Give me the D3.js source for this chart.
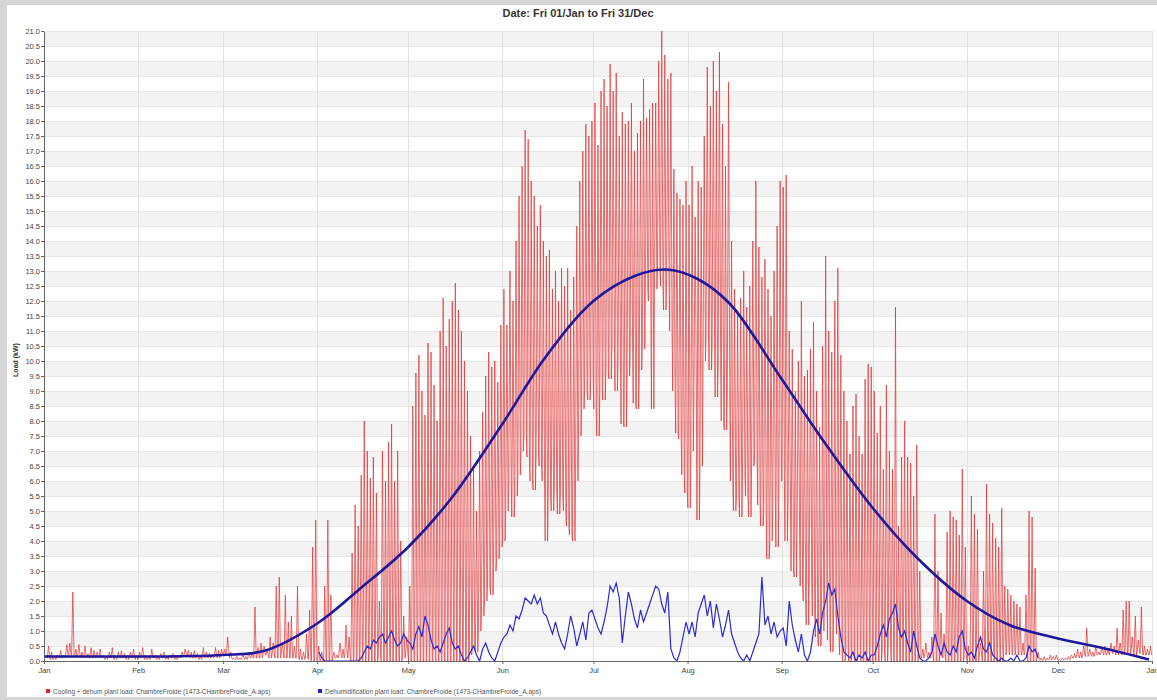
<!DOCTYPE html>
<html>
<head>
<meta charset="utf-8">
<script src="https://cdn.jsdelivr.net/npm/d3@7"></script>
<style>
  html, body { margin: 0; padding: 0; background: #d6d6d6; }
  svg { display: block; font-family: "Liberation Sans", Arial, sans-serif; }
</style>
</head>
<body>
<svg id="chart" width="1157" height="700"></svg>
<script>
// ---- data ----
var monthLabels = [ 'Jan', 'Feb', 'Mar', 'Apr', 'May', 'Jun', 'Jul', 'Aug', 'Sep', 'Oct', 'Nov', 'Dec', 'Jan' ];
var monthLengths = [ 31, 28, 31, 30, 31, 30, 31, 31, 30, 31, 30, 31 ];

// cooling + dehum plant load: daily peak (kW), per month
var coolPeak = [
  [0.2,0.5,0.3,0.15,0.2,0.35,0.2,0.55,0.6,2.3,0.4,0.55,0.3,0.5,0.25,0.45,0.35,0.3,0.4,0.2,0.15,0.3,0.45,0.2,0.3,0.35,0.25,0.2,0.3,0.4,0.2],
  [0.3,0.45,0.2,0.15,0.4,0.2,0.15,0.25,0.3,0.15,0.2,0.25,0.15,0.2,0.3,0.4,0.35,0.3,0.35,0.25,0.15,0.45,0.3,0.25,0.2,0.45,0.35,0.4],
  [0.4,0.8,0.3,0.1,0.15,0.1,0.2,0.15,0.3,0.25,1.8,0.45,0.6,0.5,0.35,0.8,0.6,2.5,2.8,0.6,2.2,1.3,1.5,0.5,2.5,0.4,0.3,0.9,1.7,3.8,4.7],
  [0.5,0.3,2.5,4.7,2.2,0.3,0.2,0.6,0.4,1.2,0.8,3.6,5.2,4.5,6.2,8.0,7.0,6.1,6.8,5.6,2.0,7.0,6.0,7.3,7.9,6.0,7.0,4.0,1.5,0.8],
  [2.5,8.5,9.6,10.2,9.0,8.2,10.6,10.3,9.2,8.0,11.0,12.1,10.5,11.4,12.0,12.6,11.7,11.0,10.0,9.0,7.5,6.5,5.0,7.0,8.3,9.5,10.3,9.8,10.0,9.3,11.2],
  [12.4,11.2,13.0,12.0,14.0,15.5,16.5,17.7,17.4,16.0,15.5,14.5,15.2,14.0,13.5,13.7,12.4,13.0,12.0,13.1,12.5,13.1,11.7,12.8,14.5,16.0,17.0,17.9,17.5,18.0],
  [18.6,17.2,19.0,19.4,18.5,19.9,19.0,19.6,17.5,18.3,17.9,18.0,18.6,17.0,17.6,18.0,19.4,18.1,18.4,18.6,18.6,20.0,21.0,20.2,19.4,19.6,16.4,15.6,15.4,15.2,16.0],
  [15.2,16.5,14.8,16.0,15.8,17.5,19.8,18.5,20.0,19.0,20.3,17.9,16.5,19.3,14.0,12.4,11.7,12.1,13.0,11.8,12.5,14.0,16.0,13.8,12.8,13.4,12.4,11.5,13.0,14.5,16.0],
  [15.8,16.2,11.0,10.4,9.0,10.0,12.0,9.5,9.7,10.4,11.3,9.0,7.8,10.5,13.5,11.0,10.3,12.0,13.1,10.2,9.0,8.0,6.9,8.5,8.9,7.5,6.9,9.4,9.9,9.8],
  [9.0,7.6,8.5,6.4,9.2,7.0,6.4,11.8,4.5,6.8,8.0,6.8,6.6,5.5,7.2,3.0,0.4,0.6,0.3,0.8,4.9,3.0,1.6,0.9,4.3,5.0,4.8,4.7,4.2,6.4,3.8],
  [0.5,5.5,4.9,4.4,0.6,3.0,5.9,4.9,4.6,4.1,3.8,5.1,2.5,2.4,2.2,2.0,1.9,1.8,0.6,2.2,5.0,4.8,3.1,0.3,0.1,0.15,0.1,0.2,0.15,0.2],
  [0.05,0.1,0.1,0.15,0.2,0.25,0.4,0.3,0.5,1.1,0.4,0.3,0.5,0.3,0.45,0.5,0.4,0.6,0.5,1.1,0.6,1.7,2.0,2.0,0.8,1.5,0.7,1.8,0.5,0.4,0.5]
];

// cooling + dehum plant load: daily minimum (kW), per month
var coolLow = [
  [0.1,0.1,0.05,0.05,0.1,0.1,0.1,0.2,0.2,0.2,0.15,0.2,0.1,0.15,0.1,0.1,0.1,0.15,0.1,0.1,0.05,0.1,0.1,0.05,0.1,0.1,0.1,0.05,0.1,0.1,0.05],
  [0.1,0.15,0.05,0.05,0.1,0.1,0.05,0.1,0.1,0.05,0.1,0.1,0.05,0.1,0.15,0.2,0.15,0.1,0.1,0.1,0.05,0.15,0.1,0.1,0.1,0.15,0.1,0.2],
  [0.2,0.3,0.1,0.05,0.05,0.05,0.1,0.05,0.1,0.1,0.1,0.1,0.1,0.2,0.2,0.1,0.2,0.1,0.1,0.2,0.1,0.1,0.1,0.1,0.1,0.05,0.05,0.1,0.05,0,0],
  [0,0,0,0,0,0.1,0.1,0.2,0.1,0.2,0.1,0,0,0,0,0,0,0,0,0,0.1,0,0,0,0,0,0,0,0.1,0.2],
  [0,0,0,0,0,0,0,0,0,0,0,0,0,0,0,0,0,0,0,0,0.2,0.5,0.3,1.0,1.5,2.0,2.5,2.2,3.0,3.4,3.8],
  [4.0,5.0,6.0,4.8,5.5,6.2,7.0,7.5,6.8,6.0,5.7,6.9,6.5,6.0,4.0,5.5,5.0,5.8,4.9,5.5,5.0,4.5,4.2,4.0,6.0,7.5,8.4,9.0,8.7,9.4],
  [8.4,7.5,9.0,8.7,9.7,9.4,10.5,9.0,10.0,7.9,7.8,9.5,10.4,8.6,8.4,9.7,10.4,12.4,12.0,8.4,12.4,13.1,12.5,11.7,12.8,11.0,9.0,7.6,7.4,6.2,5.6],
  [5.1,7.0,9.0,4.7,6.5,10.0,11.0,9.7,10.5,8.8,10.0,8.0,7.7,9.0,6.0,5.0,5.4,4.8,6.2,5.5,4.8,6.5,7.0,5.2,4.5,5.0,3.4,4.0,5.5,3.8,6.0],
  [6.0,4.0,5.2,3.0,2.8,4.5,2.5,2.0,1.2,2.8,1.5,0.8,0.5,1.0,2.2,0.7,0.3,1.5,0.9,0.2,0,0.3,0,0.1,0,0.2,0,0,0.3,0],
  [0,0,0,0.3,0,0.5,0,0,0,0,0,0,0,0,0,0.1,0.1,0.2,0.1,0.1,0,0,0.2,0.1,0,0,0,0,0,0,0.1],
  [0,0,0,0,0.2,0,0,0,0,0,0,0,0.2,0.3,0.2,0.2,0.3,0.2,0.2,0.3,0,0,0,0.05,0.02,0.02,0.03,0.05,0.05,0.05],
  [0.02,0.03,0.05,0.05,0.1,0.1,0.15,0.1,0.2,0.15,0.2,0.15,0.2,0.2,0.25,0.2,0.2,0.3,0.25,0.2,0.3,0.2,0.3,0.25,0.3,0.2,0.3,0.25,0.2,0.2,0.2]
];

// dehumidification plant load: daily level (kW), April to November (month index 3..10)
var dehumFirstMonth = 3;
var dehumLoad = [
  [0.3,0.1,0,0,0,0,0,0,0,0,0,0,0,0,0.1,0.3,0.5,0.4,0.7,0.6,0.8,0.9,0.6,0.8,1.0,0.7,0.5,0.6,0.9,0.7],
  [0.6,0.4,0.9,1.15,0.8,1.5,1.2,0.7,0.4,0.5,0.3,0.6,0.9,1.1,0.6,0.4,0.5,0.2,0.0,0.1,0.3,0.5,0.2,0.0,0.4,0.6,0.3,0.1,0.0,0.3,0.6],
  [0.8,0.9,1.2,1.0,1.5,1.4,1.7,2.1,2.0,1.9,2.2,1.9,2.1,1.6,1.5,1.2,0.9,1.3,0.9,0.6,0.4,0.9,1.5,1.1,0.5,0.9,1.3,0.7,1.6,1.7],
  [1.4,1.1,0.9,1.3,1.8,2.5,2.3,2.6,2.1,0.6,1.5,2.3,1.9,1.4,1.1,1.7,1.3,1.6,1.9,2.2,2.5,2.4,1.9,1.6,2.3,0.4,0.1,0.0,0.3,0.8,1.3],
  [0.9,1.3,0.8,1.6,1.9,2.2,1.5,2.0,1.1,1.9,1.4,0.8,1.2,1.7,0.9,0.6,0.3,0.1,0.0,0.2,0.0,0.3,0.6,0.9,2.8,1.2,1.5,0.9,1.3,0.8,1.0],
  [1.1,0.5,2.0,1.2,0.7,0.3,0.9,0.2,0.0,0.3,1.0,1.4,0.9,1.6,2.0,2.6,2.2,2.4,1.5,0.8,0.3,0.2,0.1,0.3,0.0,0.2,0.1,0.3,0.0,0.2],
  [0.2,0.5,0.9,1.2,0.8,1.4,1.6,1.9,1.1,0.8,1.0,0.6,0.3,1.0,0.5,0.1,0.0,0.0,0.1,0.3,0.9,0.5,0.2,0.6,0.3,0.2,0.5,0.3,0.8,1.0,0.4],
  [0.2,0.3,0.1,0.5,0.8,0.4,0.3,0.6,0.2,0.1,0.0,0.1,0.0,0.0,0.1,0.0,0.2,0.0,0.0,0.1,0.5,0.3,0.4,0.1]
];

// smooth seasonal trend line (day of year, kW)
var trendDays = [0,14,31,45,59,73,90,104,120,134,151,165,181,195,205,215,226,243,257,273,287,304,318,334,348,364];
var trendLoad = [0.15,0.15,0.15,0.16,0.2,0.35,1.25,2.4,3.8,5.4,7.9,10.1,12.0,12.85,13.05,12.75,11.9,9.4,7.3,5.1,3.5,2.0,1.2,0.75,0.45,0.05];

var yTicks = d3.range( 0, 21.01, 0.5 );

// ---- layout ----
var svg = d3.select( '#chart' );
var plotLeft = 44, plotRight = 1152, plotTop = 31, plotBottom = 661;

svg.append( 'rect' ).attr( 'x', 7 ).attr( 'y', 5 ).attr( 'width', 1150 ).attr( 'height', 692 ).attr( 'fill', '#fff' );

var monthStarts = [ 0 ];
monthLengths.forEach( function( n, i ) { monthStarts.push( monthStarts[ i ] + n ); } );

var x = d3.scaleLinear().domain( [ 0, 365 ] ).range( [ plotLeft, plotRight ] );
var y = d3.scaleLinear().domain( [ 0, 21 ] ).range( [ plotBottom, plotTop ] );

// alternating horizontal bands
var plot = svg.append( 'g' );
yTicks.slice( 0, -1 ).forEach( function( v, i ) {
    if ( i % 2 == 1 ) {
        plot.append( 'rect' )
            .attr( 'x', plotLeft ).attr( 'width', plotRight - plotLeft )
            .attr( 'y', y( v + 0.5 ) ).attr( 'height', y( v ) - y( v + 0.5 ) )
            .attr( 'fill', '#f3f3f3' );
    }
});
plot.selectAll( 'line.hgrid' ).data( yTicks ).enter().append( 'line' )
    .attr( 'x1', plotLeft ).attr( 'x2', plotRight )
    .attr( 'y1', function( d ) { return y( d ) + 0.5; } ).attr( 'y2', function( d ) { return y( d ) + 0.5; } )
    .attr( 'stroke', '#e6e6e6' ).attr( 'stroke-width', 1 );
plot.selectAll( 'line.vgrid' ).data( monthStarts ).enter().append( 'line' )
    .attr( 'x1', function( d ) { return Math.round( x( d ) ) + 0.5; } )
    .attr( 'x2', function( d ) { return Math.round( x( d ) ) + 0.5; } )
    .attr( 'y1', plotTop ).attr( 'y2', plotBottom )
    .attr( 'stroke', '#e2e2e2' ).attr( 'stroke-width', 1 );

// cooling series: each day rises from its minimum to its peak and back
var coolPoints = [];
coolPeak.forEach( function( month, m ) {
    month.forEach( function( peak, i ) {
        var day = monthStarts[ m ] + i;
        var low = coolLow[ m ][ i ];
        coolPoints.push( [ day + 0.1, low ], [ day + 0.5, peak ], [ day + 0.9, low ] );
    });
});
var line = d3.line()
    .x( function( p ) { return x( p[ 0 ] ); } )
    .y( function( p ) { return y( p[ 1 ] ); } );

plot.append( 'path' )
    .attr( 'd', line( coolPoints ) )
    .attr( 'fill', 'none' )
    .attr( 'stroke', '#e03232' )
    .attr( 'stroke-width', 0.9 )
    .attr( 'stroke-opacity', 0.8 );

// dehumidification series
var dehumPoints = [];
dehumLoad.forEach( function( month, k ) {
    month.forEach( function( v, i ) {
        dehumPoints.push( [ monthStarts[ dehumFirstMonth + k ] + i + 0.5, v ] );
    });
});
plot.append( 'path' )
    .attr( 'd', line( dehumPoints ) )
    .attr( 'fill', 'none' )
    .attr( 'stroke', '#2a2ad6' )
    .attr( 'stroke-width', 1.2 );

// trend curve
var trendLine = d3.line()
    .x( function( d, i ) { return x( trendDays[ i ] ); } )
    .y( function( d ) { return y( d ); } )
    .curve( d3.curveCatmullRom.alpha( 0.5 ) );
plot.append( 'path' )
    .attr( 'd', trendLine( trendLoad ) )
    .attr( 'fill', 'none' )
    .attr( 'stroke', '#1d189e' )
    .attr( 'stroke-width', 2.6 );

// axes
var yAxis = svg.append( 'g' )
    .attr( 'transform', 'translate(' + plotLeft + ',0)' )
    .call( d3.axisLeft( y ).tickValues( yTicks ).tickFormat( d3.format( '.1f' ) ).tickSize( 3 ).tickSizeOuter( 0 ) );
var xAxis = svg.append( 'g' )
    .attr( 'transform', 'translate(0,' + plotBottom + ')' )
    .call( d3.axisBottom( x ).tickValues( monthStarts )
        .tickFormat( function( d, i ) { return monthLabels[ i ]; } ).tickSize( 3 ).tickSizeOuter( 0 ) );
[ yAxis, xAxis ].forEach( function( a ) {
    a.selectAll( 'path.domain' ).attr( 'stroke', '#666' );
    a.selectAll( '.tick line' ).attr( 'stroke', '#666' );
    a.selectAll( 'text' ).attr( 'fill', '#444' ).style( 'font-size', '7.5px' );
});
yAxis.selectAll( 'text' ).attr( 'x', -4 );
xAxis.selectAll( 'text' ).attr( 'y', 7 );

// title and axis label
svg.append( 'text' )
    .attr( 'x', 578 ).attr( 'y', 17 )
    .attr( 'text-anchor', 'middle' )
    .style( 'font-size', '11px' ).style( 'font-weight', 'bold' )
    .attr( 'fill', '#333' )
    .text( 'Date: Fri 01/Jan to Fri 31/Dec' );
svg.append( 'text' )
    .attr( 'transform', 'translate(18,360) rotate(-90)' )
    .attr( 'text-anchor', 'middle' )
    .style( 'font-size', '7px' ).style( 'font-weight', 'bold' )
    .attr( 'fill', '#333' )
    .text( 'Load (kW)' );

// legend
var legendItems = [
    { label: 'Cooling + dehum plant load: ChambreFroide (1473-CHambreFroide_A.aps)', color: '#d42a2a', x: 46 },
    { label: 'Dehumidification plant load: ChambreFroide (1473-CHambreFroide_A.aps)', color: '#2424c8', x: 318 }
];
legendItems.forEach( function( item ) {
    svg.append( 'rect' ).attr( 'x', item.x ).attr( 'y', 689 ).attr( 'width', 4 ).attr( 'height', 4 ).attr( 'fill', item.color );
    svg.append( 'text' ).attr( 'x', item.x + 7 ).attr( 'y', 694 )
        .style( 'font-size', '6.5px' ).attr( 'fill', '#555' )
        .text( item.label );
});
</script>
</body>
</html>
